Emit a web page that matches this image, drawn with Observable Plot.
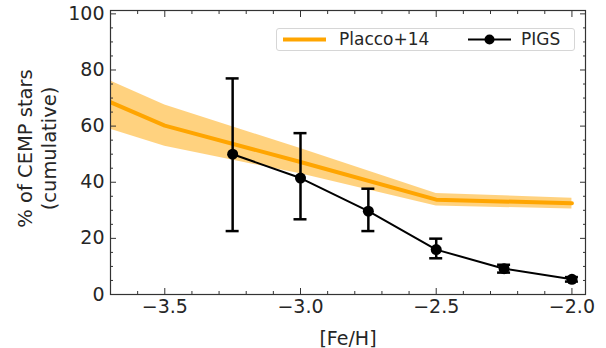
<!DOCTYPE html>
<html>
<head>
<meta charset="utf-8">
<script src="https://cdn.jsdelivr.net/npm/d3@7"></script>
<script src="https://cdn.jsdelivr.net/npm/@observablehq/plot@0.6"></script>
<style>
  body { margin: 0; background: #fff; }
  #wrap { position: relative; width: 606px; height: 348px; font-family: "DejaVu Sans", sans-serif; color: #262626; }
  #legend { position: absolute; left: 276px; top: 28px; width: 297px; height: 21px; border: 1px solid #d6d6d6; border-radius: 3px; background: rgba(255,255,255,0.8); font-size: 17px; }
  #legend .item { position: absolute; top: 0; height: 21px; line-height: 21px; white-space: nowrap; }
  #legend svg { position: absolute; top: 0; }
</style>
</head>
<body>
<div id="wrap"></div>
<script>
// Placco+14 (cumulative CEMP fraction, with shaded uncertainty band)
const placcoFeH = [-4.0, -3.5, -3.0, -2.5, -2.0];
const placcoFrac = [81.0, 60.2, 47.2, 33.8, 32.5];
const placcoLo = [68.0, 52.8, 43.0, 31.5, 30.5];
const placcoHi = [89.0, 67.5, 52.0, 36.0, 34.3];

// PIGS points with error bars
const pigsFeH = [-3.25, -3.0, -2.75, -2.5, -2.25, -2.0];
const pigsFrac = [50.0, 41.5, 29.7, 16.0, 9.2, 5.4];
const pigsLo = [22.6, 26.8, 22.6, 12.9, 7.8, 4.6];
const pigsHi = [77.0, 57.5, 37.7, 19.9, 10.6, 6.2];

// Axis ticks
const xMajor = [-3.5, -3.0, -2.5, -2.0];
const xMinor = [-3.6, -3.4, -3.3, -3.2, -3.1, -2.9, -2.8, -2.7, -2.6, -2.4, -2.3, -2.2, -2.1];
const yMajor = [0, 20, 40, 60, 80, 100];
const yMinor = [5, 10, 15, 25, 30, 35, 45, 50, 55, 65, 70, 75, 85, 90, 95];

const xLabel = "[Fe/H]";
const yLabel = "% of CEMP stars\n(cumulative)";
const legendLabels = ["Placco+14", "PIGS"];

const placco = placcoFeH.map((x, i) => ({x, y: placcoFrac[i], lo: placcoLo[i], hi: placcoHi[i]}));
const pigs = pigsFeH.map((x, i) => ({x, y: pigsFrac[i], lo: pigsLo[i], hi: pigsHi[i]}));

const axisColor = "#333";
const fmtX = d3.format(".1f");
const tickAxes = [];
for (const anchor of ["bottom", "top"]) {
  tickAxes.push(Plot.axisX(xMajor, {anchor, tickSize: -6, fill: "none", stroke: axisColor, label: null}));
  tickAxes.push(Plot.axisX(xMinor, {anchor, tickSize: -3, fill: "none", stroke: axisColor, label: null}));
}
for (const anchor of ["left", "right"]) {
  tickAxes.push(Plot.axisY(yMajor, {anchor, tickSize: -6, fill: "none", stroke: axisColor, label: null}));
  tickAxes.push(Plot.axisY(yMinor, {anchor, tickSize: -3, fill: "none", stroke: axisColor, label: null}));
}

const chart = Plot.plot({
  width: 606,
  height: 348,
  marginLeft: 110,
  marginRight: 21,
  marginTop: 10,
  marginBottom: 54,
  style: {fontFamily: "DejaVu Sans, sans-serif", fontSize: "19px", color: "#262626", background: "white"},
  x: {domain: [-3.7, -1.95]},
  y: {domain: [0, 101.2]},
  marks: [
    Plot.areaY(placco, {x: "x", y1: "lo", y2: "hi", fill: "orange", fillOpacity: 0.5, clip: true}),
    Plot.line(placco, {x: "x", y: "y", stroke: "orange", strokeWidth: 4, clip: true}),
    Plot.ruleX(pigs, {x: "x", y1: "lo", y2: "hi", stroke: "black", strokeWidth: 2.5}),
    Plot.ruleY(pigs, {y: "hi", x1: "x", x2: "x", insetLeft: -6.5, insetRight: -6.5, stroke: "black", strokeWidth: 2.5}),
    Plot.ruleY(pigs, {y: "lo", x1: "x", x2: "x", insetLeft: -6.5, insetRight: -6.5, stroke: "black", strokeWidth: 2.5}),
    Plot.line(pigs, {x: "x", y: "y", stroke: "black", strokeWidth: 2}),
    Plot.dot(pigs, {x: "x", y: "y", r: 5.5, fill: "black"}),
    ...tickAxes,
    Plot.axisX(xMajor, {anchor: "bottom", tickSize: 0, tickPadding: 5, tickFormat: fmtX, label: null, fontSize: 19}),
    Plot.axisY(yMajor, {anchor: "left", tickSize: 0, tickPadding: 6, label: null, fontSize: 19}),
    Plot.text([xLabel], {frameAnchor: "bottom", dy: 44, fontSize: 19, lineAnchor: "middle"}),
    Plot.text([yLabel], {frameAnchor: "left", textAnchor: "middle", dx: -74, dy: -4, rotate: -90, fontSize: 19.5, lineHeight: 1.2, lineAnchor: "middle"}),
    Plot.frame({stroke: axisColor, strokeWidth: 1.2})
  ]
});

const wrap = document.getElementById("wrap");
wrap.appendChild(chart);

const legend = document.createElement("div");
legend.id = "legend";
legend.innerHTML = `
  <svg width="50" height="21" style="left:5px"><line x1="1" x2="44" y1="10.5" y2="10.5" stroke="orange" stroke-width="4"/></svg>
  <div class="item" style="left:62px">${legendLabels[0]}</div>
  <svg width="50" height="21" style="left:191px"><line x1="0" x2="43" y1="10.5" y2="10.5" stroke="black" stroke-width="2"/><circle cx="21.5" cy="10.5" r="5" fill="black"/></svg>
  <div class="item" style="left:244px">${legendLabels[1]}</div>`;
wrap.appendChild(legend);
</script>
</body>
</html>
